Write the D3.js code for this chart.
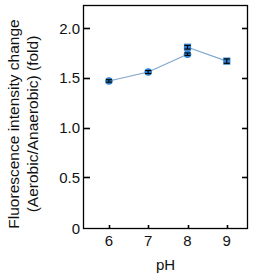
<!DOCTYPE html>
<html>
<head>
<meta charset="utf-8">
<script src="https://cdn.jsdelivr.net/npm/d3@7"></script>
<style>
  body { margin: 0; background: #fff; }
  svg text { font-family: "Liberation Sans", Arial, sans-serif; fill: #111; }
</style>
</head>
<body>
<svg id="chart" width="255" height="274"></svg>
<script>
// pH categories and tick labels
const xTicks = [6, 7, 8, 9];
const yTicks = [0, 0.5, 1.0, 1.5, 2.0];

// circle series (mean, sem)
const circlePH = [6, 7, 8];
const circleVal = [1.47, 1.56, 1.74];
const circleErr = [0.012, 0.015, 0.012];

// square series
const squarePH = [8, 9];
const squareVal = [1.81, 1.67];
const squareErr = [0.018, 0.022];

const box = { left: 83, right: 248, top: 5, bottom: 229 };

const svg = d3.select("#chart");

const x = d3.scaleLinear().domain([5.34, 9.54]).range([box.left, box.right]);
const y = d3.scaleLinear().domain([0, 2.236]).range([226.7, box.top]);

// frame
svg.append("rect")
  .attr("x", box.left + 0.5).attr("y", box.top + 0.5)
  .attr("width", box.right - box.left - 1).attr("height", box.bottom - box.top - 1)
  .attr("fill", "none").attr("stroke", "#000").attr("stroke-width", 1.3);

// y ticks, inside on both sides
const ys = yTicks.filter(d => d > 0);
svg.selectAll("line.ytl").data(ys).join("line")
  .attr("x1", box.left).attr("x2", box.left + 7)
  .attr("y1", d => Math.round(y(d)) + 0.5).attr("y2", d => Math.round(y(d)) + 0.5)
  .attr("stroke", "#000").attr("stroke-width", 1.6);
svg.selectAll("line.ytr").data(ys).join("line")
  .attr("x1", box.right - 6).attr("x2", box.right)
  .attr("y1", d => Math.round(y(d)) + 0.5).attr("y2", d => Math.round(y(d)) + 0.5)
  .attr("stroke", "#000").attr("stroke-width", 1.6);

svg.selectAll("text.ylab").data(yTicks).join("text")
  .attr("x", box.left - 3)
  .attr("y", d => d === 0 ? box.bottom : y(d))
  .attr("dy", "0.36em")
  .attr("text-anchor", "end")
  .attr("font-size", 15)
  .text(d => d === 0 ? "0" : d3.format(".1f")(d));

// x ticks, inside at the bottom
svg.selectAll("line.xt").data(xTicks).join("line")
  .attr("x1", d => Math.round(x(d)) + 0.5).attr("x2", d => Math.round(x(d)) + 0.5)
  .attr("y1", box.bottom).attr("y2", box.bottom - 4)
  .attr("stroke", "#000").attr("stroke-width", 1.6);

svg.selectAll("text.xlab").data(xTicks).join("text")
  .attr("x", d => x(d))
  .attr("y", 241)
  .attr("dy", "0.36em")
  .attr("text-anchor", "middle")
  .attr("font-size", 15)
  .text(d => d);

svg.append("text")
  .attr("x", (box.left + box.right) / 2).attr("y", 265).attr("dy", "0.36em")
  .attr("text-anchor", "middle").attr("font-size", 15)
  .text("pH");

// y title, two lines
const title = svg.append("text")
  .attr("transform", "translate(0,124) rotate(-90)")
  .attr("text-anchor", "middle").attr("font-size", 15.5);
title.append("tspan").attr("x", 0).attr("y", 13).attr("dy", "0.36em").text("Fluorescence intensity change");
title.append("tspan").attr("x", 0).attr("y", 32).attr("dy", "0.36em").text("(Aerobic/Anaerobic) (fold)");

// lines
const lineColor = "#7fa6cc";
const line = d3.line().x(d => x(d[0])).y(d => y(d[1]));
svg.append("path").datum(d3.zip(circlePH, circleVal))
  .attr("d", line).attr("fill", "none").attr("stroke", lineColor).attr("stroke-width", 1.1);
svg.append("path").datum(d3.zip(squarePH, squareVal))
  .attr("d", line).attr("fill", "none").attr("stroke", lineColor).attr("stroke-width", 1.1);

const markFill = "#2f80d0";

// markers
svg.selectAll("circle.pt").data(d3.zip(circlePH, circleVal)).join("circle")
  .attr("cx", d => x(d[0])).attr("cy", d => y(d[1])).attr("r", 3.8)
  .attr("fill", markFill);
svg.selectAll("rect.pt").data(d3.zip(squarePH, squareVal)).join("rect")
  .attr("x", d => x(d[0]) - 3.6).attr("y", d => y(d[1]) - 3.6)
  .attr("width", 7.2).attr("height", 7.2)
  .attr("fill", markFill);

// error bars
function errBars(ph, val, err) {
  const g = svg.append("g").attr("stroke", "#000").attr("stroke-width", 1.1);
  const rows = d3.zip(ph, val, err);
  g.selectAll("line.v").data(rows).join("line")
    .attr("x1", d => x(d[0])).attr("x2", d => x(d[0]))
    .attr("y1", d => y(d[1] - d[2])).attr("y2", d => y(d[1] + d[2]));
  g.selectAll("line.lo").data(rows).join("line")
    .attr("x1", d => x(d[0]) - 3).attr("x2", d => x(d[0]) + 3)
    .attr("y1", d => y(d[1] - d[2])).attr("y2", d => y(d[1] - d[2]));
  g.selectAll("line.hi").data(rows).join("line")
    .attr("x1", d => x(d[0]) - 3).attr("x2", d => x(d[0]) + 3)
    .attr("y1", d => y(d[1] + d[2])).attr("y2", d => y(d[1] + d[2]));
}
errBars(circlePH, circleVal, circleErr);
errBars(squarePH, squareVal, squareErr);
</script>
</body>
</html>
